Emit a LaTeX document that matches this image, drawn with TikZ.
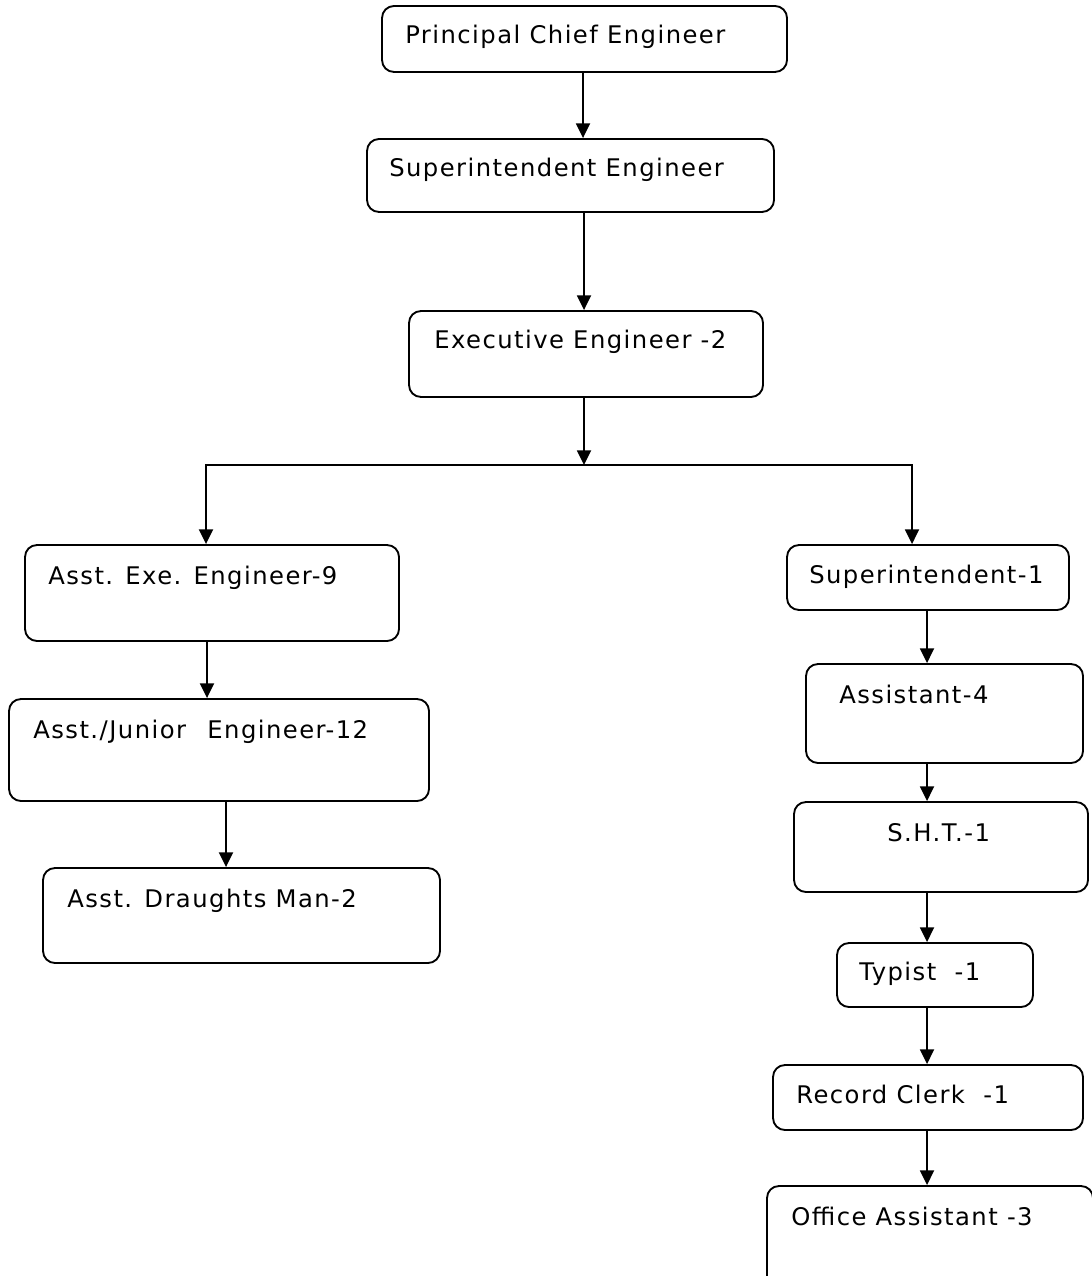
\documentclass[tikz,border=0pt]{standalone}
\usepackage{fontspec}
\setmainfont[LetterSpace=6]{DejaVu Sans}
\usetikzlibrary{arrows.meta,fit}
\begin{document}
\begin{tikzpicture}[x=0.75pt,y=-0.75pt,
  box/.style={draw, line width=1.4pt, rounded corners=9pt, inner sep=0pt},
  lbl/.style={anchor=base west, inner sep=0pt, font=\fontsize{18.2}{22}\selectfont},
  arr/.style={line width=1.4pt, -{Triangle[length=11pt,width=10.5pt]}}]
\useasboundingbox (0,0) rectangle (1091,1276);
% boxes
\node[box, fit={(382,6) (787,72)}] (b1) {};
\node[box, fit={(367,139) (774,212)}] (b2) {};
\node[box, fit={(409,311) (763,397)}] (b3) {};
\node[box, fit={(25,545) (399,641)}] (b4) {};
\node[box, fit={(9,699) (429,801)}] (b5) {};
\node[box, fit={(43,868) (440,963)}] (b6) {};
\node[box, fit={(787,545) (1069,610)}] (b7) {};
\node[box, fit={(806,664) (1083,763)}] (b8) {};
\node[box, fit={(794,802) (1088,892)}] (b9) {};
\node[box, fit={(837,943) (1033,1007)}] (b10) {};
\node[box, fit={(773,1065) (1083,1130)}] (b11) {};
\node[box, fit={(767,1186) (1093,1310)}] (b12) {};
% labels
\node[lbl] (t1) at (405,44) {Principal Chief Engineer};
\node[lbl] (t2) at (389,177) {Superintendent Engineer};
\node[lbl] (t3) at (434,349) {Executive Engineer -2};
\node[lbl] (t4) at (48,584) {Asst. Exe. Engineer-9};
\node[lbl] (t5) at (33,738) {Asst./Junior\hspace{16pt}Engineer-12};
\node[lbl] (t6) at (67,907) {Asst. Draughts Man-2};
\node[lbl] (t7) at (809,583) {Superintendent-1};
\node[lbl] (t8) at (839,703) {Assistant-4};
\node[lbl] (t9) at (887,841) {S.H.T.-1};
\node[lbl] (t10) at (859,980) {Typist\ \ -1};
\node[lbl] (t11) at (796,1103) {Record Clerk\ \ -1};
\node[lbl] (t12) at (791,1225) {Office Assistant -3};
% x positions of connectors
\coordinate (xa) at (583,0);
\coordinate (xb) at (584,0);
\coordinate (xl) at (206,0);
\coordinate (xr) at (912,0);
\coordinate (x5) at (207,0);
\coordinate (x6) at (226,0);
\coordinate (xc) at (927,0);
\coordinate (j) at (584,465);
% connectors
\draw[arr] (b1.south -| xa) -- (b2.north -| xa);
\draw[arr] (b2.south -| xb) -- (b3.north -| xb);
\draw[arr] (b3.south -| xb) -- (j);
\draw[arr] (j) -| (b4.north -| xl);
\draw[arr] (j) -| (b7.north -| xr);
\draw[arr] (b4.south -| x5) -- (b5.north -| x5);
\draw[arr] (b5.south -| x6) -- (b6.north -| x6);
\draw[arr] (b7.south -| xc) -- (b8.north -| xc);
\draw[arr] (b8.south -| xc) -- (b9.north -| xc);
\draw[arr] (b9.south -| xc) -- (b10.north -| xc);
\draw[arr] (b10.south -| xc) -- (b11.north -| xc);
\draw[arr] (b11.south -| xc) -- (b12.north -| xc);
\end{tikzpicture}
\end{document}
